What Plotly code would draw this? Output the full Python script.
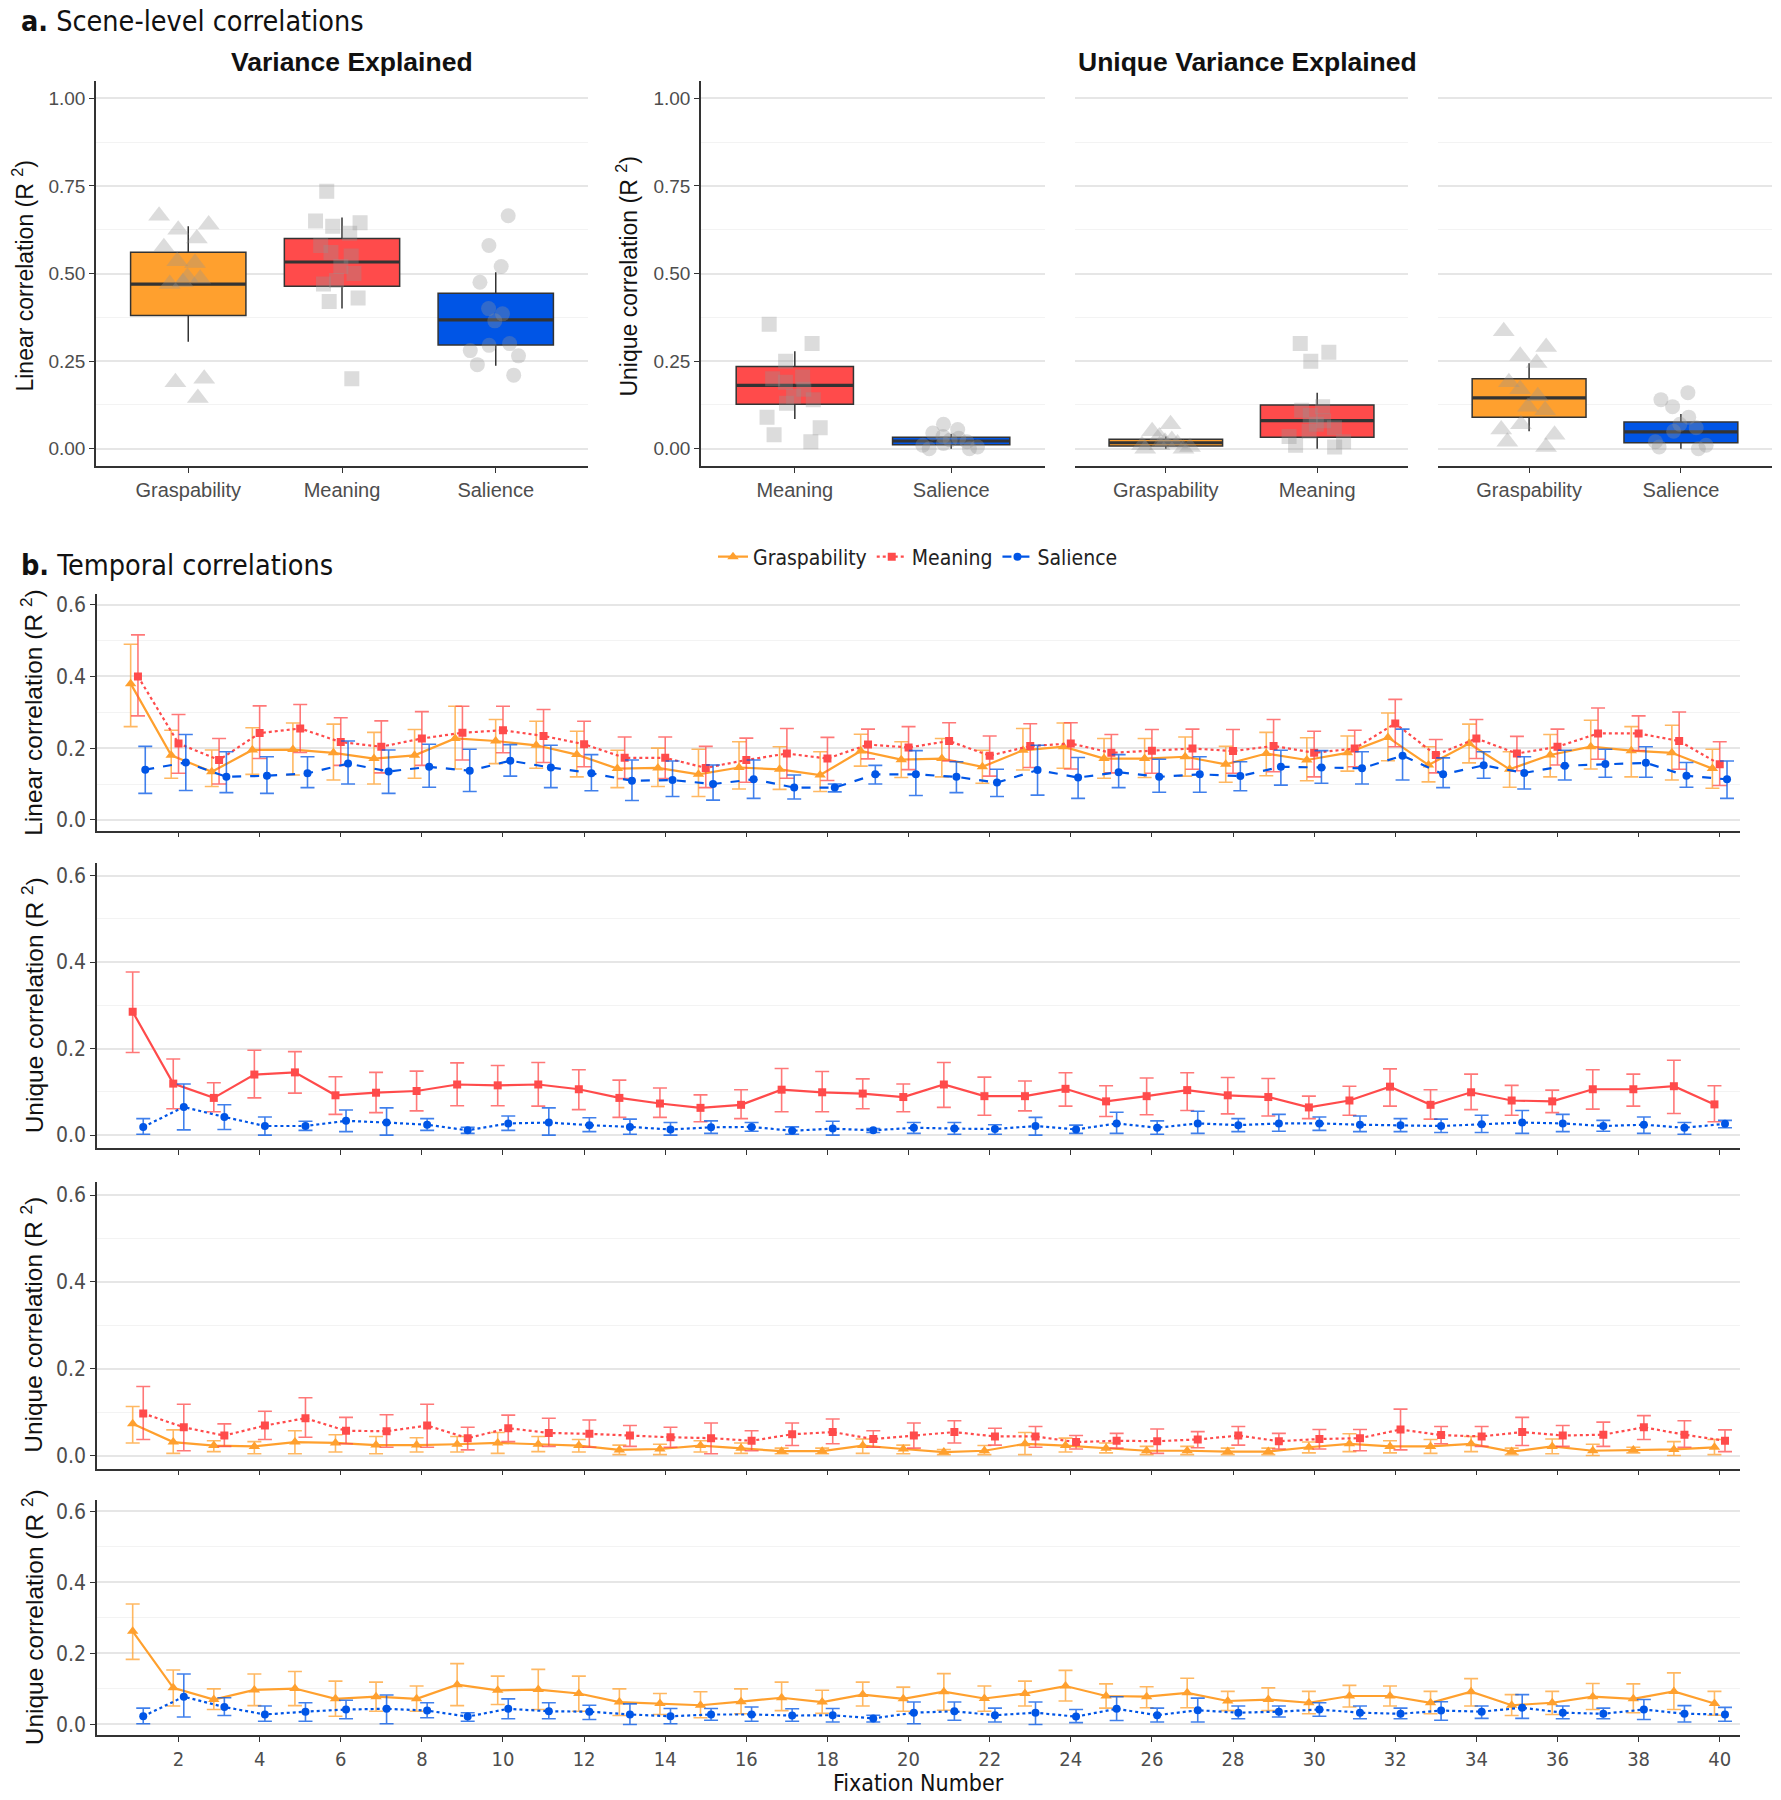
import plotly.graph_objects as go

W, H = 1781, 1800
OFF = 0  # body margin is removed in the page (see write_html below)

# ---------------- DATA ----------------
ORANGE = "#FFA02E"
RED = "#FF4B4B"
BLUE = "#0055E6"
ORANGE_E = "rgba(255,160,46,0.75)"
RED_E = "rgba(255,75,75,0.75)"
BLUE_E = "rgba(0,85,230,0.75)"

# a. Scene-level box plot summaries (Q1, median, Q3, whisker low, whisker high)
ve_cats = ["Graspability", "Meaning", "Salience"]
ve_q1 = [0.38, 0.464, 0.296]
ve_med = [0.47, 0.533, 0.368]
ve_q3 = [0.561, 0.60, 0.444]
ve_lo = [0.305, 0.40, 0.237]
ve_hi = [0.635, 0.66, 0.504]

ve_pts_grasp = [0.665, 0.64, 0.625, 0.60, 0.575, 0.535, 0.53, 0.49, 0.485, 0.475, 0.47, 0.20, 0.19, 0.145]
ve_pts_mean = [0.735, 0.65, 0.645, 0.635, 0.615, 0.58, 0.56, 0.55, 0.52, 0.50, 0.48, 0.47, 0.43, 0.42, 0.20]
ve_pts_sal = [0.665, 0.58, 0.52, 0.475, 0.40, 0.385, 0.365, 0.30, 0.295, 0.28, 0.265, 0.24, 0.21]

# Unique: meaning vs salience
u1_cats = ["Meaning", "Salience"]
u1_q1 = [0.127, 0.011]
u1_med = [0.181, 0.022]
u1_q3 = [0.235, 0.033]
u1_lo = [0.085, 0.0]
u1_hi = [0.278, 0.042]
u1_pts_mean = [0.355, 0.30, 0.25, 0.205, 0.20, 0.19, 0.17, 0.15, 0.14, 0.13, 0.09, 0.06, 0.04, 0.02]
u1_pts_sal = [0.07, 0.055, 0.045, 0.035, 0.03, 0.025, 0.02, 0.015, 0.01, 0.005, 0.0, 0.0]

# Unique: graspability vs meaning
u2_cats = ["Graspability", "Meaning"]
u2_q1 = [0.008, 0.033]
u2_med = [0.017, 0.08]
u2_q3 = [0.027, 0.125]
u2_lo = [0.0, 0.0]
u2_hi = [0.035, 0.16]
u2_pts_grasp = [0.07, 0.05, 0.035, 0.025, 0.02, 0.015, 0.01, 0.01, 0.005, 0.0, 0.0]
u2_pts_mean = [0.30, 0.275, 0.25, 0.12, 0.11, 0.095, 0.08, 0.07, 0.06, 0.05, 0.035, 0.02, 0.01, 0.005]

# Unique: graspability vs salience
u3_cats = ["Graspability", "Salience"]
u3_q1 = [0.09, 0.017]
u3_med = [0.145, 0.048]
u3_q3 = [0.20, 0.076]
u3_lo = [0.05, 0.0]
u3_hi = [0.244, 0.099]
u3_pts_grasp = [0.335, 0.29, 0.265, 0.245, 0.19, 0.17, 0.15, 0.12, 0.11, 0.07, 0.055, 0.04, 0.02, 0.005]
u3_pts_sal = [0.16, 0.14, 0.12, 0.09, 0.07, 0.06, 0.05, 0.02, 0.01, 0.005, 0.0]

# b. Temporal correlations
fixation = list(range(1, 41))
x_ticks = list(range(2, 41, 2))

lin_g_mean = [0.38, 0.18, 0.134, 0.195, 0.196, 0.187, 0.171, 0.18, 0.227, 0.22, 0.208, 0.182, 0.143, 0.145, 0.127, 0.146, 0.141, 0.125, 0.192, 0.168,
              0.171, 0.148, 0.194, 0.204, 0.171, 0.171, 0.176, 0.155, 0.185, 0.167, 0.187, 0.23, 0.153, 0.213, 0.141, 0.181, 0.204, 0.193, 0.187, 0.143]
lin_g_hi = [0.49, 0.25, 0.195, 0.257, 0.27, 0.267, 0.244, 0.252, 0.317, 0.28, 0.275, 0.247, 0.194, 0.2, 0.197, 0.218, 0.204, 0.19, 0.239, 0.218,
            0.227, 0.194, 0.255, 0.27, 0.227, 0.227, 0.231, 0.205, 0.244, 0.229, 0.234, 0.298, 0.204, 0.267, 0.19, 0.238, 0.278, 0.26, 0.264, 0.197]
lin_g_lo = [0.26, 0.116, 0.093, 0.127, 0.125, 0.111, 0.10, 0.116, 0.142, 0.157, 0.144, 0.12, 0.09, 0.093, 0.065, 0.086, 0.085, 0.079, 0.15, 0.118,
            0.12, 0.102, 0.139, 0.144, 0.116, 0.118, 0.122, 0.105, 0.123, 0.109, 0.136, 0.165, 0.106, 0.159, 0.091, 0.12, 0.142, 0.12, 0.111, 0.088]

lin_m_mean = [0.40, 0.213, 0.167, 0.242, 0.255, 0.217, 0.204, 0.227, 0.243, 0.25, 0.234, 0.211, 0.173, 0.173, 0.145, 0.167, 0.185, 0.171, 0.21, 0.202,
              0.22, 0.179, 0.206, 0.213, 0.187, 0.193, 0.199, 0.192, 0.206, 0.187, 0.199, 0.269, 0.181, 0.227, 0.185, 0.204, 0.241, 0.241, 0.22, 0.155]
lin_m_hi = [0.516, 0.294, 0.227, 0.318, 0.322, 0.285, 0.276, 0.302, 0.317, 0.317, 0.308, 0.275, 0.231, 0.231, 0.205, 0.228, 0.255, 0.23, 0.253, 0.26,
            0.271, 0.234, 0.268, 0.271, 0.238, 0.252, 0.253, 0.252, 0.28, 0.247, 0.25, 0.336, 0.224, 0.28, 0.233, 0.253, 0.312, 0.29, 0.301, 0.218]
lin_m_lo = [0.29, 0.13, 0.10, 0.171, 0.188, 0.152, 0.131, 0.152, 0.167, 0.187, 0.16, 0.148, 0.115, 0.115, 0.09, 0.105, 0.116, 0.11, 0.17, 0.14,
            0.164, 0.122, 0.146, 0.142, 0.131, 0.13, 0.141, 0.13, 0.134, 0.12, 0.148, 0.204, 0.131, 0.171, 0.137, 0.153, 0.169, 0.193, 0.141, 0.096]

lin_s_mean = [0.14, 0.16, 0.12, 0.123, 0.13, 0.157, 0.135, 0.148, 0.137, 0.165, 0.146, 0.13, 0.109, 0.111, 0.10, 0.113, 0.09, 0.09, 0.127, 0.127,
              0.12, 0.104, 0.139, 0.118, 0.133, 0.12, 0.127, 0.122, 0.148, 0.146, 0.144, 0.179, 0.127, 0.152, 0.131, 0.151, 0.156, 0.159, 0.123, 0.113]
lin_s_hi = [0.205, 0.238, 0.19, 0.176, 0.176, 0.22, 0.195, 0.211, 0.197, 0.21, 0.208, 0.182, 0.167, 0.164, 0.153, 0.167, 0.125, 0.10, 0.152, 0.193,
            0.162, 0.141, 0.208, 0.174, 0.182, 0.169, 0.176, 0.162, 0.194, 0.193, 0.19, 0.253, 0.173, 0.19, 0.176, 0.194, 0.197, 0.204, 0.16, 0.164]
lin_s_lo = [0.074, 0.082, 0.076, 0.074, 0.09, 0.10, 0.074, 0.091, 0.079, 0.122, 0.09, 0.081, 0.054, 0.065, 0.055, 0.06, 0.058, 0.078, 0.10, 0.068,
            0.076, 0.065, 0.069, 0.06, 0.09, 0.077, 0.077, 0.081, 0.097, 0.102, 0.10, 0.111, 0.09, 0.116, 0.086, 0.111, 0.119, 0.119, 0.091, 0.06]

um_m_mean = [0.285, 0.119, 0.086, 0.14, 0.145, 0.092, 0.098, 0.102, 0.117, 0.115, 0.117, 0.106, 0.086, 0.073, 0.063, 0.07, 0.105, 0.099, 0.096, 0.088,
             0.117, 0.09, 0.09, 0.107, 0.078, 0.09, 0.104, 0.092, 0.088, 0.064, 0.08, 0.112, 0.07, 0.099, 0.08, 0.078, 0.106, 0.106, 0.113, 0.071]
um_m_hi = [0.377, 0.176, 0.121, 0.196, 0.193, 0.135, 0.145, 0.148, 0.167, 0.161, 0.168, 0.151, 0.127, 0.109, 0.093, 0.105, 0.154, 0.147, 0.13, 0.118,
           0.168, 0.134, 0.125, 0.144, 0.114, 0.132, 0.144, 0.133, 0.131, 0.09, 0.113, 0.153, 0.105, 0.141, 0.115, 0.104, 0.151, 0.141, 0.173, 0.114]
um_m_lo = [0.191, 0.061, 0.054, 0.086, 0.097, 0.048, 0.052, 0.056, 0.068, 0.068, 0.067, 0.059, 0.041, 0.041, 0.031, 0.038, 0.054, 0.054, 0.061, 0.054,
           0.064, 0.046, 0.056, 0.067, 0.043, 0.047, 0.057, 0.049, 0.044, 0.038, 0.046, 0.067, 0.037, 0.059, 0.046, 0.052, 0.06, 0.067, 0.05, 0.031]

um_s_mean = [0.019, 0.065, 0.042, 0.021, 0.021, 0.033, 0.029, 0.024, 0.011, 0.027, 0.029, 0.023, 0.019, 0.013, 0.018, 0.019, 0.01, 0.015, 0.011, 0.017,
             0.015, 0.014, 0.021, 0.013, 0.027, 0.017, 0.027, 0.023, 0.027, 0.027, 0.024, 0.023, 0.021, 0.025, 0.029, 0.027, 0.021, 0.024, 0.017, 0.026]
um_s_hi = [0.038, 0.118, 0.07, 0.042, 0.032, 0.058, 0.063, 0.038, 0.018, 0.044, 0.063, 0.04, 0.037, 0.029, 0.033, 0.029, 0.019, 0.032, 0.015, 0.029,
           0.029, 0.024, 0.041, 0.023, 0.053, 0.033, 0.055, 0.038, 0.048, 0.042, 0.044, 0.038, 0.037, 0.046, 0.057, 0.048, 0.034, 0.042, 0.029, 0.034]
um_s_lo = [0.002, 0.012, 0.013, 0.0, 0.011, 0.008, 0.0, 0.011, 0.004, 0.011, 0.0, 0.008, 0.002, 0.0, 0.004, 0.009, 0.002, 0.0, 0.006, 0.004,
           0.002, 0.002, 0.0, 0.004, 0.004, 0.002, 0.004, 0.008, 0.009, 0.011, 0.008, 0.008, 0.006, 0.006, 0.004, 0.008, 0.009, 0.004, 0.002, 0.017]

ug_g_mean = [0.073, 0.031, 0.023, 0.021, 0.031, 0.029, 0.024, 0.024, 0.026, 0.029, 0.026, 0.023, 0.013, 0.015, 0.023, 0.017, 0.01, 0.01, 0.023, 0.015,
             0.008, 0.011, 0.027, 0.023, 0.017, 0.011, 0.011, 0.009, 0.009, 0.019, 0.027, 0.021, 0.021, 0.027, 0.009, 0.021, 0.011, 0.013, 0.014, 0.019]
ug_g_hi = [0.113, 0.059, 0.034, 0.032, 0.057, 0.048, 0.044, 0.041, 0.044, 0.053, 0.044, 0.037, 0.024, 0.026, 0.034, 0.029, 0.017, 0.017, 0.038, 0.024,
           0.014, 0.023, 0.053, 0.04, 0.029, 0.021, 0.021, 0.017, 0.017, 0.031, 0.05, 0.034, 0.037, 0.044, 0.017, 0.038, 0.026, 0.019, 0.032, 0.037]
ug_g_lo = [0.029, 0.005, 0.009, 0.004, 0.004, 0.008, 0.004, 0.008, 0.008, 0.005, 0.009, 0.008, 0.002, 0.002, 0.008, 0.005, 0.004, 0.004, 0.005, 0.004,
           0.002, 0.002, 0.002, 0.008, 0.006, 0.002, 0.002, 0.002, 0.002, 0.006, 0.009, 0.006, 0.005, 0.009, 0.002, 0.004, 0.0, 0.006, 0.0, 0.002]

ug_m_mean = [0.097, 0.065, 0.046, 0.069, 0.086, 0.057, 0.056, 0.069, 0.04, 0.063, 0.052, 0.05, 0.046, 0.042, 0.04, 0.034, 0.049, 0.054, 0.038, 0.046,
             0.054, 0.044, 0.044, 0.031, 0.034, 0.033, 0.037, 0.046, 0.033, 0.038, 0.04, 0.06, 0.047, 0.044, 0.054, 0.046, 0.048, 0.065, 0.048, 0.034]
ug_m_hi = [0.159, 0.118, 0.073, 0.102, 0.133, 0.088, 0.094, 0.118, 0.065, 0.093, 0.086, 0.082, 0.069, 0.065, 0.075, 0.057, 0.075, 0.084, 0.057, 0.075,
           0.08, 0.063, 0.067, 0.046, 0.051, 0.061, 0.055, 0.067, 0.051, 0.06, 0.06, 0.107, 0.067, 0.067, 0.088, 0.069, 0.077, 0.092, 0.08, 0.059]
ug_m_lo = [0.037, 0.011, 0.021, 0.037, 0.042, 0.027, 0.019, 0.019, 0.013, 0.032, 0.021, 0.019, 0.021, 0.019, 0.004, 0.011, 0.023, 0.027, 0.019, 0.017,
           0.029, 0.024, 0.019, 0.015, 0.017, 0.005, 0.018, 0.024, 0.015, 0.015, 0.011, 0.013, 0.027, 0.021, 0.023, 0.021, 0.021, 0.037, 0.019, 0.009]

us_g_mean = [0.262, 0.103, 0.07, 0.097, 0.101, 0.072, 0.078, 0.072, 0.112, 0.096, 0.098, 0.087, 0.063, 0.059, 0.054, 0.064, 0.075, 0.063, 0.084, 0.072,
             0.092, 0.073, 0.087, 0.108, 0.08, 0.078, 0.089, 0.066, 0.07, 0.061, 0.08, 0.08, 0.061, 0.092, 0.054, 0.061, 0.078, 0.072, 0.093, 0.059]
us_g_hi = [0.339, 0.153, 0.10, 0.142, 0.149, 0.122, 0.119, 0.108, 0.171, 0.136, 0.155, 0.136, 0.10, 0.087, 0.092, 0.10, 0.119, 0.096, 0.119, 0.105,
           0.143, 0.108, 0.122, 0.152, 0.114, 0.106, 0.13, 0.093, 0.103, 0.093, 0.11, 0.108, 0.093, 0.129, 0.084, 0.093, 0.115, 0.114, 0.145, 0.093]
us_g_lo = [0.183, 0.052, 0.042, 0.053, 0.053, 0.023, 0.037, 0.037, 0.053, 0.056, 0.042, 0.037, 0.025, 0.028, 0.019, 0.03, 0.039, 0.031, 0.052, 0.037,
           0.04, 0.037, 0.052, 0.066, 0.046, 0.047, 0.047, 0.039, 0.039, 0.03, 0.049, 0.052, 0.03, 0.052, 0.025, 0.028, 0.042, 0.033, 0.042, 0.026]

us_s_mean = [0.023, 0.078, 0.049, 0.028, 0.036, 0.042, 0.044, 0.039, 0.022, 0.044, 0.037, 0.036, 0.028, 0.023, 0.028, 0.028, 0.025, 0.026, 0.017, 0.033,
             0.037, 0.026, 0.033, 0.022, 0.044, 0.026, 0.04, 0.033, 0.036, 0.042, 0.033, 0.03, 0.039, 0.036, 0.047, 0.033, 0.03, 0.042, 0.03, 0.028]
us_s_hi = [0.046, 0.142, 0.075, 0.052, 0.061, 0.068, 0.083, 0.061, 0.033, 0.072, 0.061, 0.054, 0.058, 0.045, 0.045, 0.049, 0.044, 0.045, 0.026, 0.063,
           0.063, 0.046, 0.063, 0.042, 0.078, 0.046, 0.074, 0.052, 0.052, 0.061, 0.052, 0.046, 0.064, 0.052, 0.084, 0.052, 0.046, 0.07, 0.053, 0.048]
us_s_lo = [0.002, 0.021, 0.025, 0.009, 0.009, 0.016, 0.002, 0.019, 0.009, 0.016, 0.016, 0.014, 0.0, 0.002, 0.012, 0.009, 0.009, 0.007, 0.007, 0.002,
           0.012, 0.007, 0.0, 0.005, 0.011, 0.007, 0.007, 0.016, 0.021, 0.023, 0.016, 0.016, 0.012, 0.017, 0.017, 0.016, 0.016, 0.014, 0.007, 0.009]

# ---------------- STYLE ----------------
REG = "Liberation Sans, Arial, sans-serif"
NARROW = "Liberation Sans Narrow, DejaVu Sans Condensed, Arial Narrow, sans-serif"
AX = "#333333"
TICKC = "#4D4D4D"
GRID = "#E6E6E6"
MINOR = "#F3F3F3"

CAT_COLOR = {"Graspability": ORANGE, "Meaning": RED, "Salience": BLUE}
CAT_SYMBOL = {"Graspability": "triangle-up", "Meaning": "square", "Salience": "circle"}
PT_SIZE = {"Graspability": 19, "Meaning": 15, "Salience": 15}
PT_COLOR = "rgba(150,150,150,0.33)"


def xd(a, b):
    return [(a - OFF) / W, (b - OFF) / W]


def yd(top, bottom):
    return [1 - (bottom - OFF) / H, 1 - (top - OFF) / H]


fig = go.Figure()
layout = dict(width=W, height=H, margin=dict(l=0, r=0, t=0, b=0),
              paper_bgcolor="white", plot_bgcolor="white")

# ---------- Top panels ----------
top_panels = [
    (1, ve_cats, ve_q1, ve_med, ve_q3, ve_lo, ve_hi,
     {"Graspability": ve_pts_grasp, "Meaning": ve_pts_mean, "Salience": ve_pts_sal}, (96, 588), True),
    (2, u1_cats, u1_q1, u1_med, u1_q3, u1_lo, u1_hi,
     {"Meaning": u1_pts_mean, "Salience": u1_pts_sal}, (701, 1045), True),
    (3, u2_cats, u2_q1, u2_med, u2_q3, u2_lo, u2_hi,
     {"Graspability": u2_pts_grasp, "Meaning": u2_pts_mean}, (1075, 1408), False),
    (4, u3_cats, u3_q1, u3_med, u3_q3, u3_lo, u3_hi,
     {"Graspability": u3_pts_grasp, "Salience": u3_pts_sal}, (1438, 1772), False),
]

for (k, cats, q1, med, q3, lo, hi, pts, (xa, xb), show_y) in top_panels:
    xr = "x" if k == 1 else f"x{k}"
    yr = "y" if k == 1 else f"y{k}"
    for i, c in enumerate(cats):
        fig.add_trace(go.Box(
            x=[c], q1=[q1[i]], median=[med[i]], q3=[q3[i]],
            lowerfence=[lo[i]], upperfence=[hi[i]],
            fillcolor=CAT_COLOR[c], line=dict(color=AX, width=1.5),
            width=0.75, whiskerwidth=0, boxpoints=False,
            xaxis=xr, yaxis=yr, showlegend=False, hoverinfo="skip"))
        # thicker median bar (flat box at the median)
        fig.add_trace(go.Box(
            x=[c], q1=[med[i]], median=[med[i]], q3=[med[i]],
            lowerfence=[med[i]], upperfence=[med[i]],
            fillcolor="rgba(0,0,0,0)", line=dict(color=AX, width=3.2),
            width=0.75, whiskerwidth=0, boxpoints=False,
            xaxis=xr, yaxis=yr, showlegend=False, hoverinfo="skip"))
    for c in cats:
        fig.add_trace(go.Box(
            x=[c] * len(pts[c]), y=pts[c], boxpoints="all", jitter=0.6, pointpos=0,
            fillcolor="rgba(0,0,0,0)", line=dict(color="rgba(0,0,0,0)", width=0),
            width=0.75, whiskerwidth=0,
            marker=dict(symbol=CAT_SYMBOL[c], size=PT_SIZE[c], color=PT_COLOR),
            xaxis=xr, yaxis=yr, showlegend=False, hoverinfo="skip"))
    xkey = "xaxis" if k == 1 else f"xaxis{k}"
    ykey = "yaxis" if k == 1 else f"yaxis{k}"
    layout[xkey] = dict(domain=xd(xa, xb), anchor=yr, type="category",
                        categoryorder="array", categoryarray=cats,
                        range=[-0.6, len(cats) - 0.4],
                        showline=True, linecolor=AX, linewidth=1.5,
                        ticks="outside", ticklen=5, tickcolor=AX, tickwidth=1.3,
                        tickfont=dict(family=REG, size=20, color=TICKC),
                        showgrid=False, zeroline=False, fixedrange=True)
    layout[ykey] = dict(domain=yd(80, 466), anchor=xr, range=[-0.05, 1.05],
                        tickvals=[0, 0.25, 0.5, 0.75, 1.0], tickformat=".2f",
                        showline=show_y, linecolor=AX, linewidth=1.5,
                        ticks="outside" if show_y else "", ticklen=5, tickcolor=AX, tickwidth=1.3,
                        showticklabels=show_y,
                        tickfont=dict(family=REG, size=19, color=TICKC),
                        showgrid=True, gridcolor=GRID, gridwidth=1.6,
                        minor=dict(tickvals=[0.125, 0.375, 0.625, 0.875], showgrid=True,
                                   gridcolor=MINOR, gridwidth=1.2),
                        zeroline=False, fixedrange=True)

# ---------- Temporal rows ----------
rows = [
    (5, (594, 831), [("Graspability", lin_g_mean, lin_g_lo, lin_g_hi, "solid", -0.18),
                     ("Meaning", lin_m_mean, lin_m_lo, lin_m_hi, "dot", 0.0),
                     ("Salience", lin_s_mean, lin_s_lo, lin_s_hi, "dash", 0.18)], False),
    (6, (863, 1149), [("Meaning", um_m_mean, um_m_lo, um_m_hi, "solid", -0.13),
                      ("Salience", um_s_mean, um_s_lo, um_s_hi, "dot", 0.13)], False),
    (7, (1183, 1470), [("Graspability", ug_g_mean, ug_g_lo, ug_g_hi, "solid", -0.13),
                       ("Meaning", ug_m_mean, ug_m_lo, ug_m_hi, "dot", 0.13)], False),
    (8, (1502, 1737), [("Graspability", us_g_mean, us_g_lo, us_g_hi, "solid", -0.13),
                       ("Salience", us_s_mean, us_s_lo, us_s_hi, "dot", 0.13)], True),
]
ECOL = {"Graspability": ORANGE_E, "Meaning": RED_E, "Salience": BLUE_E}
MSIZE = {"Graspability": 10, "Meaning": 8, "Salience": 8}
RANK = {"Graspability": 1, "Meaning": 2, "Salience": 3}

for (k, (t, b), series, labels) in rows:
    xr, yr = f"x{k}", f"y{k}"
    for (name, m, lo, hi, dash, off) in series:
        fig.add_trace(go.Scatter(
            x=[f + off for f in fixation], y=m, mode="lines+markers", name=name,
            line=dict(color=CAT_COLOR[name], width=2.2, dash=dash),
            marker=dict(symbol=CAT_SYMBOL[name], size=MSIZE[name], color=CAT_COLOR[name]),
            error_y=dict(type="data", symmetric=False,
                         array=[h - v for h, v in zip(hi, m)],
                         arrayminus=[v - l for v, l in zip(m, lo)],
                         color=ECOL[name], thickness=1.6, width=7),
            xaxis=xr, yaxis=yr, showlegend=(k == 5), legendrank=RANK[name],
            hoverinfo="skip"))
    layout[f"xaxis{k}"] = dict(domain=xd(97, 1740), anchor=yr, range=[-0.01, 40.5],
                               tickvals=x_ticks, showticklabels=labels,
                               showline=True, linecolor=AX, linewidth=1.5,
                               ticks="outside", ticklen=5, tickcolor=AX, tickwidth=1.3,
                               tickfont=dict(family=NARROW, size=20, color=TICKC),
                               showgrid=False, zeroline=False, fixedrange=True)
    layout[f"yaxis{k}"] = dict(domain=yd(t, b), anchor=xr, range=[-0.03, 0.63],
                               tickvals=[0, 0.2, 0.4, 0.6], tickformat=".1f",
                               showline=True, linecolor=AX, linewidth=1.5,
                               ticks="outside", ticklen=5, tickcolor=AX, tickwidth=1.3,
                               tickfont=dict(family=NARROW, size=21, color=TICKC),
                               showgrid=True, gridcolor=GRID, gridwidth=1.6,
                               minor=dict(tickvals=[0.1, 0.3, 0.5], showgrid=True,
                                          gridcolor=MINOR, gridwidth=1.2),
                               zeroline=False, fixedrange=True)

layout["legend"] = dict(orientation="h", x=(918 - OFF) / W, xanchor="center", y=1 - (557 - OFF) / H,
                        yanchor="middle",
                        font=dict(family=NARROW, size=21, color="#222"), itemwidth=30,
                        bgcolor="rgba(0,0,0,0)", traceorder="normal")


def ann(text, x, y, size, family=REG, angle=0, xanchor="center", color="#111"):
    return dict(text=text, x=(x - OFF) / W, y=1 - (y - OFF) / H, xref="paper", yref="paper",
                showarrow=False, textangle=angle, xanchor=xanchor, yanchor="middle",
                font=dict(family=family, size=size, color=color))


layout["annotations"] = [
    ann("<b>a.</b> Scene-level correlations", 19, 21, 28.5, NARROW, xanchor="left"),
    ann("<b>Variance Explained</b>", 352, 61, 26.5),
    ann("<b>Unique Variance Explained</b>", 1247, 61, 26.5),
    ann("Linear correlation (R <sup>2</sup>)", 23, 276, 23, angle=-90),
    ann("Unique correlation (R <sup>2</sup>)", 627, 276, 23, angle=-90),
    ann("<b>b.</b> Temporal correlations", 19, 565, 28.5, NARROW, xanchor="left"),
    ann("Linear correlation (R <sup>2</sup>)", 32, 713, 24.5, angle=-90),
    ann("Unique correlation (R <sup>2</sup>)", 32, 1006, 24.5, angle=-90),
    ann("Unique correlation (R <sup>2</sup>)", 32, 1326, 24.5, angle=-90),
    ann("Unique correlation (R <sup>2</sup>)", 32, 1619, 24.5, angle=-90),
    ann("Fixation Number", 918, 1785, 23, NARROW),
]

fig.update_layout(**layout)
fig.write_html("out.html",
               config={"displayModeBar": False},
               post_script="document.body.style.margin='0px';document.body.style.padding='0px';")
